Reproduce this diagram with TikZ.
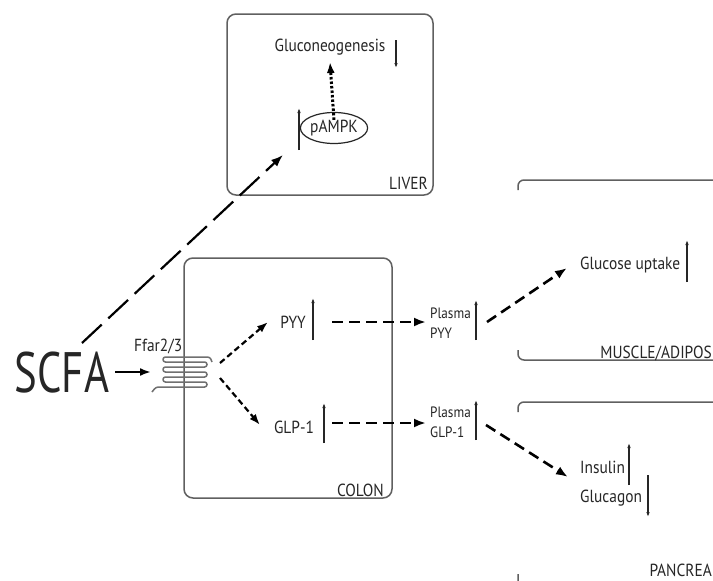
\documentclass[tikz,border=0pt]{standalone}
\usepackage{fontspec}
\setmainfont{PT Sans}[FakeStretch=0.88]
\newfontfamily\bigfont{PT Sans}[FakeStretch=0.75]
\usetikzlibrary{arrows.meta,shapes.geometric}
\definecolor{txt}{HTML}{262626}
\definecolor{boxc}{HTML}{606060}
\definecolor{coilc}{HTML}{707070}
\begin{document}
\begin{tikzpicture}[x=1pt,y=-1pt,
  lbl/.style={font=\fontsize{17.5}{20}\selectfont, text=txt, inner sep=0pt},
  small/.style={font=\fontsize{15}{20}\selectfont, text=txt, inner sep=0pt, align=left},
  organ/.style={draw=boxc, line width=1.5pt, rounded corners=9pt},
  halfbox/.style={draw=boxc, line width=1.5pt, rounded corners=6pt},
  thinarr/.style={draw=txt, line width=1.1pt, -{Latex[length=5pt,width=3.5pt]}},
  bigdash/.style={draw=black, line width=2.6pt, dash pattern=on 11pt off 6pt, -{Latex[length=12pt,width=9pt]}},
  meddash/.style={draw=black, line width=2.2pt, dash pattern=on 6pt off 3.5pt, -{Latex[length=11pt,width=8pt]}},
  longdash/.style={draw=black, line width=2.2pt, dash pattern=on 27pt off 9pt, -{Latex[length=12pt,width=9pt]}},
  dotarr/.style={draw=black, line width=3pt, dash pattern=on 2.5pt off 2pt, -{Latex[length=11pt,width=8pt]}},
  solidarr/.style={draw=black, line width=2.2pt, -{Latex[length=11pt,width=8pt]}},
]
\clip (0,0) rectangle (713,581);
\fill[white] (0,0) rectangle (713,581);

% organ boxes
\draw[organ] (227,14) rectangle (433,195);
\draw[organ] (184,258) rectangle (392,498);
\draw[halfbox] (518,190) |- (730,180);
\draw[halfbox] (518,350) |- (730,360);
\draw[halfbox] (518,412) |- (730,402);
\draw[halfbox] (518,574) |- (730,586);

% organ labels
\node[lbl, anchor=base east] (liver) at (428,189) {LIVER};
\node[lbl, anchor=base east] (colon) at (384,496) {COLON};
\node[lbl, anchor=base east] (muscle) at (712,358) {MUSCLE/ADIPOS};
\node[lbl, anchor=base east] (pancreas) at (712,576) {PANCREA};

% liver content
\node[lbl, anchor=base] (gluco) at (330,51) {Gluconeogenesis};
\node[lbl, draw=txt, line width=1.2pt, ellipse, minimum width=57pt, minimum height=31pt, inner sep=0pt] (pampk) at (334,128) {pAMPK};
\coordinate (glA) at (396,40);
\coordinate (glB) at (396,68);
\draw[thinarr] (glA) -- (glB);
\coordinate (paA) at (299,150);
\coordinate (paB) at (299,108);
\draw[thinarr] (paA) -- (paB);
\draw[dotarr] ([yshift=-8pt]pampk.north) -- ([yshift=-11pt]gluco.base);

% SCFA and receptor
\node[font=\bigfont\fontsize{57}{60}\selectfont, text=black!85, inner sep=0pt, anchor=base] (scfa) at (62,392) {SCFA};
\node[lbl, anchor=base west] (ffar) at (134,351) {Ffar2/3};
\coordinate (rec) at (183,372);
\draw[coilc, line width=1.5pt, rounded corners=2.4pt]
  (152,392) -- (156,387) -- (207,387) -- (207,382) -- (163,382) -- (163,377)
  -- (207,377) -- (207,372) -- (163,372) -- (163,367) -- (207,367) -- (207,362)
  -- (163,362) -- (163,357) -- (210,357) -- (212,362);
\coordinate (scfaR) at (115,372);
\coordinate (recL) at (151,372);
\draw[solidarr] (scfaR) -- (recL);
\coordinate (scfaT) at (82,343);
\coordinate (liverIn) at (283,155);
\draw[longdash] (scfaT) -- (liverIn);

% colon content
\node[lbl, anchor=base] (pyy) at (293,328) {PYY};
\node[lbl, anchor=base] (glp) at (294,433) {GLP-1};
\coordinate (pyA) at (313,340);
\coordinate (pyB) at (313,298);
\draw[thinarr] (pyA) -- (pyB);
\coordinate (gpA) at (324,443);
\coordinate (gpB) at (324,403);
\draw[thinarr] (gpA) -- (gpB);
\coordinate (recU) at (220,363);
\coordinate (recD) at (220,378);
\coordinate (pyyIn) at (268,322);
\coordinate (glpIn) at (260,425);
\draw[meddash] (recU) -- (pyyIn);
\draw[meddash] (recD) -- (glpIn);

% plasma
\node[small, anchor=west] (ppyy) at (430,323) {Plasma\\PYY};
\node[small, anchor=west] (pglp) at (430,422.5) {Plasma\\GLP-1};
\coordinate (ppA) at (476,340);
\coordinate (ppB) at (476,300);
\draw[thinarr] (ppA) -- (ppB);
\coordinate (pgA) at (476,440);
\coordinate (pgB) at (476,400);
\draw[thinarr] (pgA) -- (pgB);
\coordinate (pyyOut) at (332,322);
\coordinate (ppyyIn) at (426,322);
\draw[bigdash] (pyyOut) -- (ppyyIn);
\coordinate (glpOut) at (332,423);
\coordinate (pglpIn) at (426,423);
\draw[bigdash] (glpOut) -- (pglpIn);

% targets
\node[lbl, anchor=base west] (gluc) at (580,269) {Glucose uptake};
\coordinate (guA) at (687,282);
\coordinate (guB) at (687,240);
\draw[thinarr] (guA) -- (guB);
\node[lbl, anchor=base west] (ins) at (580,473) {Insulin};
\node[lbl, anchor=base west] (gcg) at (580,502) {Glucagon};
\coordinate (inA) at (629,485);
\coordinate (inB) at (629,443);
\draw[thinarr] (inA) -- (inB);
\coordinate (gcA) at (648,475);
\coordinate (gcB) at (648,517);
\draw[thinarr] (gcA) -- (gcB);
\coordinate (ppyyOut) at (487,322);
\coordinate (glucIn) at (567,268);
\draw[bigdash] (ppyyOut) -- (glucIn);
\coordinate (pglpOut) at (486,425);
\coordinate (insIn) at (568,477);
\draw[bigdash] (pglpOut) -- (insIn);
\end{tikzpicture}
\end{document}
